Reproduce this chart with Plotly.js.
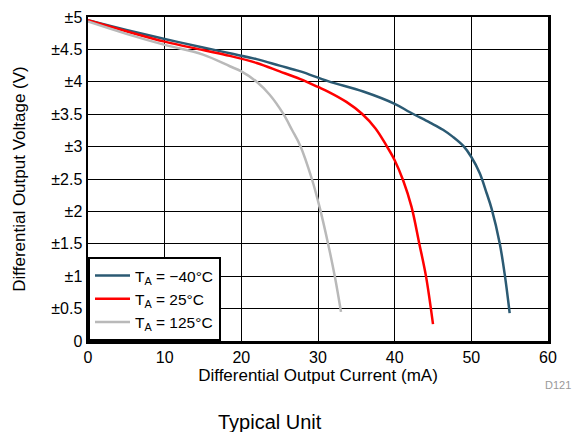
<!DOCTYPE html>
<html><head><meta charset="utf-8">
<script src="https://cdn.plot.ly/plotly-3.0.1.min.js"></script>
<style>body{margin:0;background:#fff}#chart{width:574px;height:432px}</style>
</head><body><div id="chart"></div>
<script>
const blueX = [0, 5, 10, 15, 18.5, 22, 25, 27.7, 31.3, 35.9, 40, 42, 44.6, 46.3, 47.6, 48.95, 50, 51.1, 52, 52.65, 53.7, 54.4, 55];
const blueY = [4.95, 4.80, 4.66, 4.53, 4.44, 4.35, 4.25, 4.16, 4.01, 3.85, 3.66, 3.53, 3.37, 3.26, 3.15, 3.01, 2.84, 2.59, 2.28, 2.04, 1.51, 0.99, 0.43];
const redX = [0, 5, 10, 15, 18.5, 22, 25, 27.7, 30, 31.3, 33.7, 35.7, 37.5, 39.0, 40, 41.1, 42.2, 43.2, 44.1, 45];
const redY = [4.95, 4.78, 4.62, 4.49, 4.40, 4.29, 4.16, 4.04, 3.92, 3.85, 3.69, 3.51, 3.28, 3.00, 2.79, 2.48, 2.07, 1.51, 0.99, 0.26];
const grayX = [0, 5, 10, 15, 18.5, 20, 22, 23.7, 25.5, 26.6, 27.7, 29.2, 30.2, 31.3, 32.2, 33.0];
const grayY = [4.93, 4.74, 4.57, 4.42, 4.24, 4.16, 4.00, 3.80, 3.50, 3.26, 3.01, 2.50, 2.07, 1.51, 0.99, 0.45];
const names = ["T<sub>A</sub> = \u221240\u00B0C", "T<sub>A</sub> = 25\u00B0C", "T<sub>A</sub> = 125\u00B0C"];
const yTickVals = [0, 0.5, 1, 1.5, 2, 2.5, 3, 3.5, 4, 4.5, 5];
const yTickText = ["0", "\u00B10.5", "\u00B11", "\u00B11.5", "\u00B12", "\u00B12.5", "\u00B13", "\u00B13.5", "\u00B14", "\u00B14.5", "\u00B15"];
const xTickVals = [0, 10, 20, 30, 40, 50, 60];

const font = "Liberation Sans, Arial, sans-serif";
const mk = (x, y, name, color) => ({x, y, name, type: "scatter", mode: "lines",
  line: {color, width: 2.5, shape: "spline", smoothing: 1}});
const data = [
  mk(blueX, blueY, names[0], "#2b5a73"),
  mk(redX, redY, names[1], "#ff0000"),
  mk(grayX, grayY, names[2], "#b9b9b9")
];
const layout = {
  width: 574, height: 432,
  margin: {l: 88, r: 26, t: 17, b: 91},
  paper_bgcolor: "#fff", plot_bgcolor: "#fff",
  font: {family: font, color: "#000", size: 16},
  showlegend: true,
  legend: {x: 0, y: 0, xanchor: "left", yanchor: "bottom", bgcolor: "#fff",
    bordercolor: "#000", borderwidth: 2, font: {size: 15.5, family: font},
    itemwidth: 35, tracegroupgap: 0},
  xaxis: {range: [0, 60], tickvals: xTickVals, ticks: "", showgrid: true,
    gridcolor: "#000", gridwidth: 1, zeroline: false, showline: true, linecolor: "#000",
    linewidth: 2.5, mirror: true, tickfont: {size: 16},
    title: {text: "Differential Output Current (mA)", font: {size: 17}, standoff: 5}},
  yaxis: {range: [0, 5], tickvals: yTickVals, ticktext: yTickText, ticks: "", showgrid: true,
    gridcolor: "#000", gridwidth: 1, zeroline: false, showline: true, linecolor: "#000",
    linewidth: 2.5, mirror: true, tickfont: {size: 16},
    title: {text: "Differential Output Voltage (V)", font: {size: 17}, standoff: 22}},
  annotations: [
    {text: "D121", xref: "paper", yref: "paper", x: 1.054, y: -0.136, xanchor: "right",
      yanchor: "middle", showarrow: false, font: {size: 11, color: "#999"}},
    {text: "Typical Unit", xref: "paper", yref: "paper", x: 0.396, y: -0.25, xanchor: "center",
      yanchor: "middle", showarrow: false, font: {size: 20, color: "#000"}}
  ]
};
Plotly.newPlot("chart", data, layout, {displayModeBar: false, staticPlot: true});
</script></body></html>
